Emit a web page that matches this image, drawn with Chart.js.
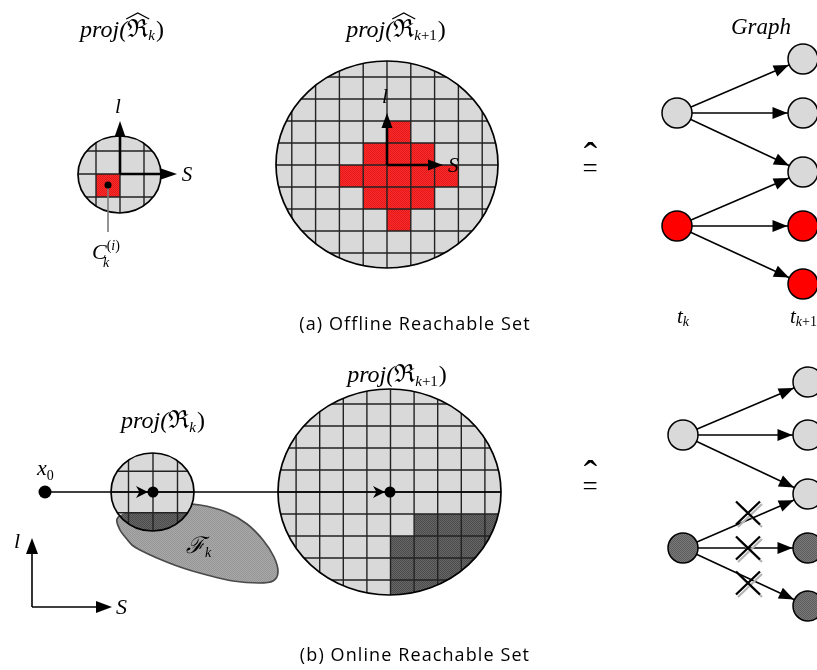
<!DOCTYPE html>
<html>
<head>
<meta charset="utf-8">
<style>
  html, body { margin: 0; padding: 0; background: #fff; overflow: hidden; }
  #wrap { width: 817px; height: 670px; }
</style>
<script src="https://cdn.jsdelivr.net/npm/chart.js@4.4.0/dist/chart.umd.min.js"></script>
</head>
<body>
<div id="wrap"><canvas id="c" width="817" height="670"></canvas></div>
<script>
// ---------------- data ----------------
// Graph node states at t_k (start) and t_{k+1} (next)
const timeLabels   = ['t_k', 't_{k+1}'];
const offlineStart = ['free', 'reach'];
const offlineNext  = ['free', 'free', 'free', 'reach', 'reach'];
const onlineStart  = ['free', 'blocked'];
const onlineNext   = ['free', 'free', 'free', 'blocked', 'blocked'];
// edges: [start node, next node]
const graphEdges   = [[0, 0], [0, 1], [0, 2], [1, 2], [1, 3], [1, 4]];
// edges removed online because their target cells collide
const onlineCut    = [false, false, false, true, true, true];

// grid cells [column, row] relative to each projection's origin (row grows downward)
const startCell    = [[-1, 0]];
const offlineCells = [[0, -2], [-1, -1], [0, -1], [1, -1], [-2, 0], [-1, 0], [0, 0], [1, 0], [2, 0],
                      [-1, 1], [0, 1], [1, 1], [0, 2]];
const collideNow   = [[-2, 1], [-1, 1], [0, 1], [1, 1]];
const collideNext  = [[1, 1], [2, 1], [3, 1], [4, 1],
                      [0, 2], [1, 2], [2, 2], [3, 2], [4, 2],
                      [0, 3], [1, 3], [2, 3], [3, 3], [4, 3],
                      [0, 4], [1, 4], [2, 4], [3, 4], [4, 4]];

// obstacle F_k outline
const obstacleOutline = [[117, 519], [127, 512], [150, 507], [177, 504], [200, 505], [226, 512],
                         [247, 524], [263, 540], [274, 557], [278, 572], [273, 581], [259, 583],
                         [233, 581], [207, 575], [180, 567], [157, 558], [140, 550], [132, 545],
                         [126, 538], [120, 530]];

// ---------------- layout ----------------
const layout = {
  offNow:  { cx: 119.5, cy: 174.5, rx: 41.5,  ry: 38.5,  ox: 120,   oy: 174, cw: 24,   ch: 23 },
  offNext: { cx: 387,   cy: 164.5, rx: 111,   ry: 103.5, ox: 387,   oy: 165, cw: 23.8, ch: 22 },
  onNow:   { cx: 152.5, cy: 492,   rx: 41.5,  ry: 39,    ox: 153,   oy: 492, cw: 24.5, ch: 20.7 },
  onNext:  { cx: 389.5, cy: 492,   rx: 111.5, ry: 103,   ox: 390.5, oy: 492, cw: 23.6, ch: 22 },
  graphTop:    { x: [677, 803], start: [113, 226], next: [59, 113, 172, 226, 284] },
  graphBottom: { x: [683, 808], start: [435, 548], next: [382, 435, 494, 548, 606] },
  crossX: 748, crossY: [513, 548, 583],
  nodeR: 15,
  x0: [45, 492],
  trajEnd: 501
};

const SERIF = "'Liberation Serif', 'DejaVu Serif', serif";
const SANS = "'Open Sans', 'Noto Sans', sans-serif";
const SET_FILL = '#d9d9d9';

const canvas = document.getElementById('c');
const ctx0 = canvas.getContext('2d');

function makePattern(base, dot) {
  const c = document.createElement('canvas');
  c.width = 2; c.height = 2;
  const g = c.getContext('2d');
  g.fillStyle = base; g.fillRect(0, 0, 2, 2);
  g.fillStyle = dot; g.fillRect(0, 0, 1, 1); g.fillRect(1, 1, 1, 1);
  return ctx0.createPattern(c, 'repeat');
}
const redPat  = makePattern('#ff2a2a', '#e01a1a');
const darkPat = makePattern('#666666', '#4c4c4c');
const obstPat = makePattern('#a8a8a8', '#969696');
const nodePat = makePattern('#787878', '#5e5e5e');

const stateColor = { free: SET_FILL, reach: '#ff0000', blocked: nodePat };

// ---------------- datasets ----------------
function nodeData(G, startStates, nextStates) {
  const pts = [], colors = [];
  startStates.forEach((s, i) => { pts.push({ x: G.x[0], y: G.start[i] }); colors.push(stateColor[s]); });
  nextStates.forEach((s, i) => { pts.push({ x: G.x[1], y: G.next[i] }); colors.push(stateColor[s]); });
  return { pts, colors };
}
function edgeSets(G) {
  return graphEdges.map(([a, b]) => ({
    data: [{ x: G.x[0], y: G.start[a] }, { x: G.x[1], y: G.next[b] }],
    showLine: true, borderColor: '#000', borderWidth: 1.5, pointRadius: 0, order: 3
  }));
}
const topNodes = nodeData(layout.graphTop, offlineStart, offlineNext);
const botNodes = nodeData(layout.graphBottom, onlineStart, onlineNext);

const datasets = [
  ...edgeSets(layout.graphTop),
  ...edgeSets(layout.graphBottom),
  { // nominal trajectory from x0
    data: [{ x: layout.x0[0], y: layout.x0[1] }, { x: layout.trajEnd, y: layout.x0[1] }],
    showLine: true, borderColor: '#000', borderWidth: 1.5, pointRadius: 0, order: 2
  },
  { data: topNodes.pts, backgroundColor: topNodes.colors, borderColor: '#000', borderWidth: 1.5,
    pointRadius: layout.nodeR, pointHoverRadius: layout.nodeR, order: 1 },
  { data: botNodes.pts, backgroundColor: botNodes.colors, borderColor: '#000', borderWidth: 1.5,
    pointRadius: layout.nodeR, pointHoverRadius: layout.nodeR, order: 1 },
  { // x0 and the projected centre points
    data: [{ x: layout.x0[0], y: layout.x0[1] }, { x: layout.onNow.ox, y: layout.onNow.oy },
           { x: layout.onNext.ox - 0.5, y: layout.onNext.oy }],
    backgroundColor: '#000', borderColor: '#000', borderWidth: 0,
    pointRadius: [6.5, 5.5, 5.5], order: 0
  },
  { // representative point of cell C_k^(i)
    data: [{ x: layout.offNow.ox - 12, y: layout.offNow.oy + 11 }],
    backgroundColor: '#000', borderWidth: 0, pointRadius: 3.5, order: 0
  }
];

// ---------------- drawing helpers ----------------
function arrowHead(ctx, x1, y1, x2, y2, len, half, notch) {
  const a = Math.atan2(y2 - y1, x2 - x1);
  const c = Math.cos(a), s = Math.sin(a);
  const bx = x2 - c * len, by = y2 - s * len;
  ctx.beginPath();
  ctx.moveTo(x2, y2);
  ctx.lineTo(bx - s * half, by + c * half);
  ctx.lineTo(x2 - c * (len - (notch || 0)), y2 - s * (len - (notch || 0)));
  ctx.lineTo(bx + s * half, by - c * half);
  ctx.closePath();
  ctx.fill();
}
function arrow(ctx, x1, y1, x2, y2, lw, len, half) {
  const a = Math.atan2(y2 - y1, x2 - x1);
  ctx.lineWidth = lw;
  ctx.beginPath();
  ctx.moveTo(x1, y1);
  ctx.lineTo(x2 - Math.cos(a) * len * 0.8, y2 - Math.sin(a) * len * 0.8);
  ctx.stroke();
  arrowHead(ctx, x1, y1, x2, y2, len, half, 0);
}
function smoothClosed(ctx, pts) {
  const n = pts.length;
  ctx.moveTo(pts[0][0], pts[0][1]);
  for (let i = 0; i < n; i++) {
    const p0 = pts[(i - 1 + n) % n], p1 = pts[i], p2 = pts[(i + 1) % n], p3 = pts[(i + 2) % n];
    ctx.bezierCurveTo(p1[0] + (p2[0] - p0[0]) / 6, p1[1] + (p2[1] - p0[1]) / 6,
                      p2[0] - (p3[0] - p1[0]) / 6, p2[1] - (p3[1] - p1[1]) / 6, p2[0], p2[1]);
  }
  ctx.closePath();
}
// text made of runs: {t, f, dy, hat, gap}
function runs(ctx, x, y, list, align, spacing) {
  ctx.letterSpacing = spacing || '0px';
  let w = 0;
  list.forEach(r => { ctx.font = r.f; r.w = ctx.measureText(r.t).width; w += r.w + (r.gap || 0); });
  let cx = align === 'center' ? x - w / 2 : (align === 'right' ? x - w : x);
  ctx.textAlign = 'left';
  ctx.textBaseline = 'alphabetic';
  ctx.fillStyle = '#000';
  list.forEach(r => {
    ctx.font = r.f;
    ctx.fillText(r.t, cx, y + (r.dy || 0));
    if (r.hat) {
      const top = y - r.hat;
      ctx.save();
      ctx.lineWidth = 1.3;
      ctx.strokeStyle = '#000';
      ctx.beginPath();
      ctx.moveTo(cx - 1, top + 6);
      ctx.lineTo(cx + r.w / 2, top);
      ctx.lineTo(cx + r.w + 1, top + 6);
      ctx.stroke();
      ctx.restore();
    }
    cx += r.w + (r.gap || 0);
  });
  ctx.letterSpacing = '0px';
}
const it = s => `italic ${s}px ${SERIF}`;
const up = s => `${s}px ${SERIF}`;

// ---------------- plugin ----------------
const diagram = {
  id: 'reachDiagram',
  beforeDatasetsDraw(chart) {
    const ctx = chart.ctx;
    const xs = chart.scales.x, ys = chart.scales.y;
    const X = v => xs.getPixelForValue(v), Y = v => ys.getPixelForValue(v);
    const LX = v => X(v) - X(0), LY = v => Y(v) - Y(0);
    const obstaclePath = () => smoothClosed(ctx, obstacleOutline.map(p => [X(p[0]), Y(p[1])]));

    function projection(P, cells, fill, extraClip) {
      const cx = X(P.cx), cy = Y(P.cy), rx = LX(P.rx), ry = LY(P.ry);
      ctx.save();
      ctx.beginPath();
      ctx.ellipse(cx, cy, rx, ry, 0, 0, Math.PI * 2);
      ctx.fillStyle = SET_FILL;
      ctx.fill();
      ctx.clip();
      ctx.save();
      if (extraClip) { ctx.beginPath(); extraClip(); ctx.clip(); }
      ctx.fillStyle = fill;
      cells.forEach(([c, r]) => {
        const x1 = X(P.ox + c * P.cw), y1 = Y(P.oy + r * P.ch);
        ctx.fillRect(x1, y1, LX(P.cw), LY(P.ch));
      });
      ctx.restore();
      ctx.strokeStyle = '#222';
      ctx.lineWidth = 1.4;
      ctx.beginPath();
      for (let k = -12; k <= 12; k++) {
        const gx = X(P.ox + k * P.cw);
        if (gx > cx - rx && gx < cx + rx) { ctx.moveTo(gx, cy - ry); ctx.lineTo(gx, cy + ry); }
        const gy = Y(P.oy + k * P.ch);
        if (gy > cy - ry && gy < cy + ry) { ctx.moveTo(cx - rx, gy); ctx.lineTo(cx + rx, gy); }
      }
      ctx.stroke();
      ctx.restore();
      ctx.beginPath();
      ctx.ellipse(cx, cy, rx, ry, 0, 0, Math.PI * 2);
      ctx.strokeStyle = '#000';
      ctx.lineWidth = 1.7;
      ctx.stroke();
    }

    ctx.save();
    projection(layout.offNow, startCell, redPat);
    projection(layout.offNext, offlineCells, redPat);

    // obstacle F_k
    ctx.beginPath(); obstaclePath();
    ctx.fillStyle = obstPat; ctx.fill();
    ctx.strokeStyle = '#4a4a4a'; ctx.lineWidth = 1.7; ctx.stroke();

    projection(layout.onNow, collideNow, darkPat, obstaclePath);
    projection(layout.onNext, collideNext, darkPat);

    // leader line to C_k^(i)
    const P = layout.offNow;
    ctx.strokeStyle = '#7a7a7a'; ctx.lineWidth = 1.6;
    ctx.beginPath(); ctx.moveTo(X(P.ox - 12), Y(P.oy + 11)); ctx.lineTo(X(P.ox - 12), Y(232)); ctx.stroke();

    // local frames (l, S) inside the offline projections
    ctx.strokeStyle = '#000'; ctx.fillStyle = '#000';
    arrow(ctx, X(P.ox), Y(P.oy), X(P.ox), Y(121), 2.6, 16, 5.5);
    arrow(ctx, X(P.ox), Y(P.oy), X(177), Y(P.oy), 2.6, 16, 5.5);
    const Q = layout.offNext;
    arrow(ctx, X(Q.ox), Y(Q.oy), X(Q.ox), Y(113), 2.6, 15, 5.5);
    arrow(ctx, X(Q.ox), Y(Q.oy), X(443), Y(Q.oy), 2.6, 15, 5.5);

    // global frame bottom-left
    arrow(ctx, X(32), Y(607), X(32), Y(538), 1.6, 16, 6);
    arrow(ctx, X(32), Y(607), X(112), Y(607), 1.6, 16, 6);
    ctx.restore();
  },
  afterDatasetsDraw(chart) {
    const ctx = chart.ctx;
    const xs = chart.scales.x, ys = chart.scales.y;
    const X = v => xs.getPixelForValue(v), Y = v => ys.getPixelForValue(v);
    const R = X(layout.nodeR) - X(0);
    ctx.save();
    ctx.fillStyle = '#000';

    // arrowheads on graph edges
    [layout.graphTop, layout.graphBottom].forEach(G => {
      graphEdges.forEach(([a, b]) => {
        const x1 = X(G.x[0]), y1 = Y(G.start[a]), x2 = X(G.x[1]), y2 = Y(G.next[b]);
        const d = Math.hypot(x2 - x1, y2 - y1);
        const tx = x2 - (x2 - x1) / d * (R + 0.5), ty = y2 - (y2 - y1) / d * (R + 0.5);
        arrowHead(ctx, x1, y1, tx, ty, 15, 6, 0);
      });
    });

    // arrowheads on the trajectory, just before each projected point
    arrowHead(ctx, X(45), Y(492), X(148), Y(492), 12, 6, 3.5);
    arrowHead(ctx, X(45), Y(492), X(385), Y(492), 12, 6, 3.5);

    // removed edges
    onlineCut.forEach((cut, i) => {
      if (!cut) return;
      const cx = X(layout.crossX), cy = Y(layout.crossY[i - 3]);
      [['#b5b5b5', 2, 2.5], ['#000', 0, 0]].forEach(([col, ox, oy]) => {
        ctx.strokeStyle = col; ctx.lineWidth = 2.3;
        ctx.beginPath();
        ctx.moveTo(cx - 12 + ox, cy - 11.5 + oy); ctx.lineTo(cx + 12 + ox, cy + 11.5 + oy);
        ctx.moveTo(cx + 12 + ox, cy - 11.5 + oy); ctx.lineTo(cx - 12 + ox, cy + 11.5 + oy);
        ctx.stroke();
      });
    });

    // ---- texts ----
    runs(ctx, X(122), Y(37), [
      { t: 'proj(', f: it(24) }, { t: 'ℜ', f: up(25), hat: 24 }, { t: 'k', f: it(15), dy: 3, gap: 1 }, { t: ')', f: up(24) }
    ], 'center');
    runs(ctx, X(396), Y(37), [
      { t: 'proj(', f: it(24) }, { t: 'ℜ', f: up(25), hat: 24 }, { t: 'k', f: it(15), dy: 3 },
      { t: '+1', f: up(15), dy: 3, gap: 1 }, { t: ')', f: up(24) }
    ], 'center');
    runs(ctx, X(761), Y(34), [{ t: 'Graph', f: it(23) }], 'center');

    runs(ctx, X(118), Y(113), [{ t: 'l', f: it(21) }], 'center');
    runs(ctx, X(187), Y(181), [{ t: 'S', f: it(21) }], 'center');
    runs(ctx, X(385), Y(103), [{ t: 'l', f: it(21) }], 'center');
    runs(ctx, X(448), Y(172), [{ t: 'S', f: it(21) }], 'left');
    runs(ctx, X(92), Y(259), [
      { t: 'C', f: it(22) }, { t: '(', f: up(14), dy: -9 }, { t: 'i', f: it(14), dy: -9 }, { t: ')', f: up(14), dy: -9 }
    ], 'left');
    runs(ctx, X(103), Y(267), [{ t: 'k', f: it(14) }], 'left');

    // "corresponds to" symbols
    [165, 483].forEach(yc => {
      runs(ctx, X(590), Y(yc + 12), [{ t: '=', f: up(27) }], 'center');
      runs(ctx, X(590.5), Y(yc + 5), [{ t: 'ˆ', f: up(40) }], 'center');
    });

    runs(ctx, X(677), Y(323), [{ t: 't', f: it(21) }, { t: 'k', f: it(14), dy: 3 }], 'left');
    runs(ctx, X(790), Y(323), [{ t: 't', f: it(21) }, { t: 'k', f: it(14), dy: 3 }, { t: '+1', f: up(14), dy: 3 }], 'left');

    runs(ctx, X(415), Y(330), [{ t: '(a) Offline Reachable Set', f: `18px ${SANS}` }], 'center', '1.1px');
    runs(ctx, X(415), Y(661), [{ t: '(b) Online Reachable Set', f: `18px ${SANS}` }], 'center', '1.1px');

    runs(ctx, X(37), Y(475), [{ t: 'x', f: it(22) }, { t: '0', f: up(14), dy: 5 }], 'left');
    runs(ctx, X(163), Y(428), [
      { t: 'proj(', f: it(24) }, { t: 'ℜ', f: up(25) }, { t: 'k', f: it(15), dy: 4, gap: 1 }, { t: ')', f: up(24) }
    ], 'center');
    runs(ctx, X(397), Y(382), [
      { t: 'proj(', f: it(24) }, { t: 'ℜ', f: up(25) }, { t: 'k', f: it(15), dy: 4 },
      { t: '+1', f: up(15), dy: 4, gap: 1 }, { t: ')', f: up(24) }
    ], 'center');
    runs(ctx, X(186), Y(553), [{ t: 'ℱ', f: it(23) }, { t: 'k', f: it(14), dy: 4 }], 'left');
    runs(ctx, X(17), Y(548), [{ t: 'l', f: it(22) }], 'center');
    runs(ctx, X(116), Y(614), [{ t: 'S', f: it(22) }], 'left');
    ctx.restore();
  }
};

new Chart(canvas, {
  type: 'scatter',
  data: { datasets },
  options: {
    responsive: false,
    animation: false,
    events: [],
    layout: { padding: 0, autoPadding: false },
    plugins: { legend: { display: false }, tooltip: { enabled: false } },
    scales: {
      x: { type: 'linear', min: 0, max: 817, display: false },
      y: { type: 'linear', min: 0, max: 670, reverse: true, display: false }
    }
  },
  plugins: [diagram]
});
</script>
</body>
</html>
